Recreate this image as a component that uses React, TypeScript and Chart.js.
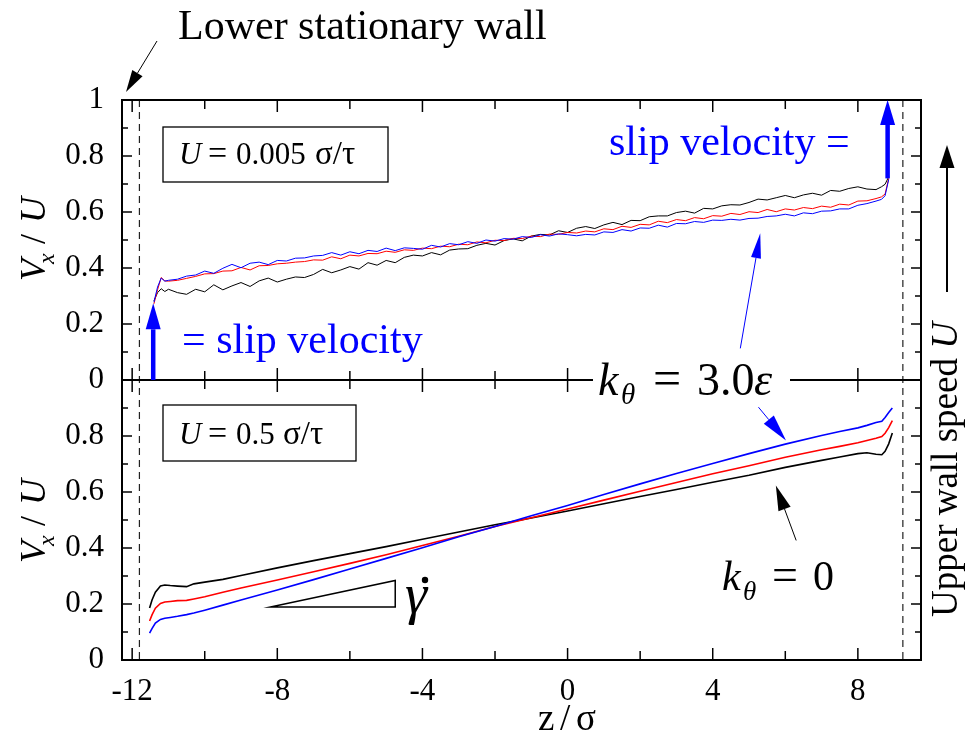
import React, { useEffect, useRef } from 'react';
import { Chart, registerables } from 'chart.js';

Chart.register(...registerables);

// ---------- axes ----------
const X_MIN = -12.28;
const X_MAX = 9.74;
const X_MAJOR = [-12, -8, -4, 0, 4, 8];
const X_MINOR = [-10, -6, -2, 2, 6];
const Y_UP_TICKS = [0, 0.2, 0.4, 0.6, 0.8, 1];
const Y_LOW_TICKS = [0, 0.2, 0.4, 0.6, 0.8];
const Y_MINOR = [0.1, 0.3, 0.5, 0.7, 0.9];
const WALLS = [-11.8, 9.24];

// ---------- upper panel, U = 0.005 ----------
const Z_UP = [
  -11.4, -11.3, -11.2, -11.1, -11.0, -10.75, -10.5, -10.25, -10.0, -9.75,
  -9.5, -9.25, -9.0, -8.75, -8.5, -8.25, -8.0, -7.75, -7.5, -7.25,
  -7.0, -6.75, -6.5, -6.25, -6.0, -5.75, -5.5, -5.25, -5.0, -4.75,
  -4.5, -4.25, -4.0, -3.75, -3.5, -3.25, -3.0, -2.75, -2.5, -2.25,
  -2.0, -1.75, -1.5, -1.25, -1.0, -0.75, -0.5, -0.25, 0, 0.25,
  0.5, 0.75, 1.0, 1.25, 1.5, 1.75, 2.0, 2.25, 2.5, 2.75,
  3.0, 3.25, 3.5, 3.75, 4.0, 4.25, 4.5, 4.75, 5.0, 5.25,
  5.5, 5.75, 6.0, 6.25, 6.5, 6.75, 7.0, 7.25, 7.5, 7.75,
  8.0, 8.25, 8.5, 8.65, 8.75, 8.85,
];
const UP_BLACK = [
  0.283, 0.312, 0.326, 0.316, 0.324, 0.312, 0.306, 0.324, 0.315, 0.340,
  0.322, 0.336, 0.348, 0.334, 0.354, 0.364, 0.350, 0.360, 0.368, 0.366,
  0.377, 0.395, 0.383, 0.393, 0.405, 0.396, 0.419, 0.410, 0.427, 0.419,
  0.438, 0.446, 0.443, 0.455, 0.447, 0.464, 0.468, 0.469, 0.481, 0.488,
  0.482, 0.498, 0.504, 0.497, 0.514, 0.520, 0.518, 0.533, 0.527, 0.542,
  0.548, 0.541, 0.554, 0.563, 0.555, 0.570, 0.569, 0.583, 0.586, 0.586,
  0.598, 0.603, 0.596, 0.613, 0.611, 0.622, 0.626, 0.625, 0.634, 0.646,
  0.643, 0.651, 0.659, 0.651, 0.661, 0.667, 0.660, 0.677, 0.674, 0.684,
  0.690, 0.682, 0.680, 0.690, 0.699, 0.726,
];
const UP_RED = [
  0.272, 0.322, 0.366, 0.354, 0.353, 0.356, 0.363, 0.370, 0.379, 0.380,
  0.389, 0.390, 0.402, 0.393, 0.408, 0.409, 0.415, 0.417, 0.421, 0.423,
  0.429, 0.428, 0.440, 0.433, 0.446, 0.443, 0.452, 0.451, 0.460, 0.456,
  0.465, 0.463, 0.471, 0.469, 0.478, 0.476, 0.485, 0.483, 0.493, 0.490,
  0.499, 0.498, 0.506, 0.505, 0.514, 0.512, 0.521, 0.520, 0.527, 0.525,
  0.532, 0.529, 0.540, 0.537, 0.549, 0.545, 0.556, 0.554, 0.567, 0.562,
  0.573, 0.569, 0.580, 0.576, 0.587, 0.585, 0.595, 0.591, 0.601, 0.598,
  0.609, 0.601, 0.611, 0.607, 0.616, 0.612, 0.621, 0.617, 0.628, 0.625,
  0.639, 0.640, 0.648, 0.654, 0.664, 0.720,
];
const UP_BLUE = [
  0.278, 0.332, 0.364, 0.353, 0.356, 0.360, 0.371, 0.375, 0.389, 0.381,
  0.399, 0.413, 0.401, 0.417, 0.421, 0.412, 0.427, 0.425, 0.435, 0.436,
  0.443, 0.445, 0.455, 0.446, 0.458, 0.451, 0.463, 0.459, 0.471, 0.462,
  0.472, 0.470, 0.467, 0.481, 0.475, 0.487, 0.483, 0.494, 0.488, 0.500,
  0.496, 0.505, 0.503, 0.512, 0.509, 0.519, 0.514, 0.522, 0.519, 0.515,
  0.520, 0.518, 0.529, 0.527, 0.537, 0.532, 0.543, 0.542, 0.553, 0.546,
  0.559, 0.558, 0.566, 0.563, 0.571, 0.570, 0.574, 0.571, 0.577, 0.578,
  0.584, 0.586, 0.592, 0.586, 0.597, 0.594, 0.603, 0.604, 0.611, 0.611,
  0.624, 0.630, 0.639, 0.645, 0.658, 0.716,
];

// ---------- lower panel, U = 0.5 ----------
const Z_LOW = [
  -11.52, -11.45, -11.36, -11.22, -11.1, -10.95, -10.75, -10.5, -10.3, -10.0,
  -9.5, -9.0, -8.0, -7.0, -6.0, -5.0, -4.0, -3.0, -2.0, -1.0,
  0, 1, 2, 3, 4, 5, 6, 7, 7.5, 8.0,
  8.25, 8.5, 8.66, 8.75, 8.85, 8.95,
];
const LOW_BLACK = [
  0.186, 0.215, 0.242, 0.264, 0.268, 0.266, 0.264, 0.262, 0.272, 0.278,
  0.288, 0.302, 0.329, 0.355, 0.380, 0.405, 0.431, 0.457, 0.483, 0.507,
  0.532, 0.558, 0.584, 0.609, 0.635, 0.660, 0.688, 0.713, 0.725, 0.737,
  0.740, 0.735, 0.733, 0.745, 0.772, 0.811,
];
const LOW_RED = [
  0.139, 0.162, 0.185, 0.202, 0.207, 0.209, 0.212, 0.213, 0.218, 0.226,
  0.242, 0.257, 0.286, 0.315, 0.345, 0.376, 0.409, 0.442, 0.477, 0.508,
  0.539, 0.571, 0.603, 0.634, 0.665, 0.694, 0.724, 0.751, 0.763, 0.776,
  0.784, 0.792, 0.798, 0.810, 0.830, 0.855,
];
const LOW_BLUE = [
  0.096, 0.113, 0.132, 0.145, 0.149, 0.152, 0.156, 0.162, 0.168, 0.178,
  0.196, 0.214, 0.250, 0.287, 0.325, 0.363, 0.401, 0.440, 0.477, 0.515,
  0.552, 0.591, 0.629, 0.666, 0.702, 0.737, 0.771, 0.802, 0.816, 0.829,
  0.838, 0.848, 0.853, 0.866, 0.884, 0.900,
];

// ---------- annotation anchors (data units) ----------
const SLIP_LEFT = { z: -11.42, from: 0, to: 0.274 };
const SLIP_RIGHT = { z: 8.82, from: 0.72, to: 1.0 };
const GAMMA_TRI = [[-8.19, 0.189], [-4.75, 0.189], [-4.75, 0.284]];

const BLACK = '#000000';
const RED = '#ff0000';
const BLUE = '#0000ff';
const SERIF = '"Liberation Serif", serif';

function arrow(ctx: any, x1: number, y1: number, x2: number, y2: number, color: string, lw: number, hl: number, hw: number) {
  const a = Math.atan2(y2 - y1, x2 - x1);
  const bx = x2 - hl * Math.cos(a);
  const by = y2 - hl * Math.sin(a);
  ctx.save();
  ctx.strokeStyle = color;
  ctx.fillStyle = color;
  ctx.lineWidth = lw;
  ctx.beginPath();
  ctx.moveTo(x1, y1);
  ctx.lineTo(bx, by);
  ctx.stroke();
  const px = -Math.sin(a) * hw / 2;
  const py = Math.cos(a) * hw / 2;
  ctx.beginPath();
  ctx.moveTo(x2, y2);
  ctx.lineTo(bx + px, by + py);
  ctx.lineTo(bx - px, by - py);
  ctx.closePath();
  ctx.fill();
  ctx.restore();
}

function text(ctx: any, s: string, x: number, y: number, font: string, color = '#000', align = 'left') {
  ctx.font = font;
  ctx.fillStyle = color;
  ctx.textAlign = align;
  ctx.textBaseline = 'alphabetic';
  ctx.fillText(s, x, y);
}

const annotations = {
  id: 'annotations',
  afterDatasetsDraw(chart: any) {
    const ctx = chart.ctx;
    const xs = chart.scales.x;
    const yU = chart.scales.yUp;
    const yL = chart.scales.yLow;
    const X = (v: number) => xs.getPixelForValue(v);
    const U = (v: number) => yU.getPixelForValue(v);
    const L = (v: number) => yL.getPixelForValue(v);
    const left = xs.left;
    const right = xs.right;
    const line = (a: number, b: number, c: number, d: number) => {
      ctx.beginPath();
      ctx.moveTo(a, b);
      ctx.lineTo(c, d);
      ctx.stroke();
    };
    ctx.save();

    // dashed wall positions
    ctx.strokeStyle = '#222';
    ctx.lineWidth = 1.2;
    ctx.setLineDash([7, 5]);
    for (const w of WALLS) line(X(w), yU.top, X(w), yL.bottom);
    ctx.setLineDash([]);

    // frames
    ctx.strokeStyle = '#000';
    ctx.lineWidth = 2;
    ctx.strokeRect(left, yU.top, right - left, yU.bottom - yU.top);
    ctx.strokeRect(left, yL.top, right - left, yL.bottom - yL.top);

    // inward ticks
    ctx.lineWidth = 1.5;
    const edges: [number, number][] = [[yU.top, 1], [yU.bottom, -1], [yL.top, 1], [yL.bottom, -1]];
    const tickX = (v: number, len: number) => {
      const p = X(v);
      for (const [y0, d] of edges) line(p, y0, p, y0 + d * len);
    };
    X_MAJOR.forEach((v) => tickX(v, 12));
    X_MINOR.forEach((v) => tickX(v, 9));
    const tickY = (s: any, v: number, len: number) => {
      const p = s.getPixelForValue(v);
      line(left, p, left + len, p);
      line(right, p, right - len, p);
    };
    for (const s of [yU, yL]) {
      Y_UP_TICKS.forEach((v) => tickY(s, v, 10));
      Y_MINOR.forEach((v) => tickY(s, v, 6));
    }

    // parameter boxes
    ctx.lineWidth = 1.3;
    ctx.strokeRect(163, 127, 225, 55);
    text(ctx, 'U', 179, 164, `italic 31px ${SERIF}`);
    text(ctx, '=', 208, 164, `34px ${SERIF}`);
    text(ctx, '0.005', 236, 164, `31px ${SERIF}`);
    text(ctx, 'σ/τ', 315, 164, `33px ${SERIF}`);
    ctx.strokeRect(163, 405, 193, 56);
    text(ctx, 'U', 179, 444, `italic 31px ${SERIF}`);
    text(ctx, '=', 208, 444, `34px ${SERIF}`);
    text(ctx, '0.5', 236, 444, `31px ${SERIF}`);
    text(ctx, 'σ/τ', 283, 444, `33px ${SERIF}`);

    // slip velocity arrows and labels
    arrow(ctx, X(SLIP_LEFT.z), U(SLIP_LEFT.from), X(SLIP_LEFT.z), U(SLIP_LEFT.to), BLUE, 4.5, 26, 15);
    arrow(ctx, X(SLIP_RIGHT.z), U(SLIP_RIGHT.from), X(SLIP_RIGHT.z), U(SLIP_RIGHT.to), BLUE, 4.5, 25, 15);
    text(ctx, '= slip velocity', 182, 353, `42px ${SERIF}`, BLUE);
    text(ctx, 'slip velocity =', 609, 155, `42px ${SERIF}`, BLUE);

    // k_theta = 3.0 epsilon label across the middle line
    ctx.fillStyle = '#fff';
    ctx.fillRect(593, 366, 197, 28);
    text(ctx, 'k', 598, 395, `italic 46px ${SERIF}`);
    text(ctx, 'θ', 621, 404, `italic 29px ${SERIF}`);
    text(ctx, '=', 653, 395, `50px ${SERIF}`);
    text(ctx, '3.0', 697, 395, `46px ${SERIF}`);
    text(ctx, 'ε', 754, 395, `italic 46px ${SERIF}`);
    arrow(ctx, X(4.76), U(0.113), X(5.31), U(0.524), BLUE, 1, 25, 10);
    arrow(ctx, X(5.26), L(0.903), X(6.02), L(0.784), BLUE, 1, 27, 13);

    // k_theta = 0 label
    text(ctx, 'k', 722, 590, `italic 42px ${SERIF}`);
    text(ctx, 'θ', 743, 600, `italic 27px ${SERIF}`);
    text(ctx, '=', 772, 590, `46px ${SERIF}`);
    text(ctx, '0', 813, 590, `42px ${SERIF}`);
    arrow(ctx, X(6.3), L(0.427), X(5.74), L(0.623), BLACK, 1, 25, 13);

    // shear-rate triangle
    ctx.strokeStyle = '#000';
    ctx.lineWidth = 1.5;
    ctx.beginPath();
    ctx.moveTo(X(GAMMA_TRI[0][0]), L(GAMMA_TRI[0][1]));
    ctx.lineTo(X(GAMMA_TRI[1][0]), L(GAMMA_TRI[1][1]));
    ctx.lineTo(X(GAMMA_TRI[2][0]), L(GAMMA_TRI[2][1]));
    ctx.closePath();
    ctx.stroke();
    text(ctx, 'γ', 405, 613, `italic 56px ${SERIF}`);
    ctx.fillStyle = '#000';
    ctx.beginPath();
    ctx.arc(425, 580, 3.2, 0, Math.PI * 2);
    ctx.fill();

    // top label
    text(ctx, 'Lower stationary wall', 178, 39, `42px ${SERIF}`);
    arrow(ctx, 157, 41, 126, 92, BLACK, 1, 22, 12);

    // right label
    ctx.save();
    ctx.translate(957, 617);
    ctx.rotate(-Math.PI / 2);
    ctx.font = `37px ${SERIF}`;
    const w1 = ctx.measureText('Upper wall speed ').width;
    text(ctx, 'Upper wall speed ', 0, 0, `37px ${SERIF}`);
    text(ctx, 'U', w1, 0, `italic 37px ${SERIF}`);
    ctx.restore();
    arrow(ctx, 947, 292, 947, 145, BLACK, 2, 23, 15);

    // y titles
    const vTitle = (yStart: number) => {
      ctx.save();
      ctx.translate(45, yStart);
      ctx.rotate(-Math.PI / 2);
      text(ctx, 'V', 0, 0, `italic 36px ${SERIF}`);
      text(ctx, 'x', 17, 9, `italic 24px ${SERIF}`);
      text(ctx, '/', 37, 0, `36px ${SERIF}`);
      text(ctx, 'U', 58, 0, `italic 36px ${SERIF}`);
      ctx.restore();
    };
    vTitle(281);
    vTitle(563);

    // x title
    text(ctx, 'z', 538, 730, `37px ${SERIF}`);
    text(ctx, '/', 560, 730, `37px ${SERIF}`);
    text(ctx, 'σ', 576, 730, `37px ${SERIF}`);

    ctx.restore();
  },
};

export default function App() {
  const ref = useRef<HTMLCanvasElement>(null);
  useEffect(() => {
    const canvas = ref.current as HTMLCanvasElement;
    const pts = (zs: number[], vs: number[]) => zs.map((z, i) => ({ x: z, y: vs[i] }));
    const tickFont = { family: SERIF, size: 31 };
    const chart = new Chart(canvas, {
      type: 'line',
      data: {
        datasets: [
          { data: pts(Z_UP, UP_BLUE), yAxisID: 'yUp', borderColor: BLUE, borderWidth: 1, order: 1 },
          { data: pts(Z_UP, UP_RED), yAxisID: 'yUp', borderColor: RED, borderWidth: 1, order: 2 },
          { data: pts(Z_UP, UP_BLACK), yAxisID: 'yUp', borderColor: BLACK, borderWidth: 1, order: 3 },
          { data: pts(Z_LOW, LOW_BLUE), yAxisID: 'yLow', borderColor: BLUE, borderWidth: 1.6, order: 4 },
          { data: pts(Z_LOW, LOW_RED), yAxisID: 'yLow', borderColor: RED, borderWidth: 1.6, order: 5 },
          { data: pts(Z_LOW, LOW_BLACK), yAxisID: 'yLow', borderColor: BLACK, borderWidth: 1.6, order: 6 },
        ],
      } as any,
      options: {
        responsive: false,
        animation: false,
        devicePixelRatio: 1,
        events: [],
        layout: { padding: { top: 100, right: 59, bottom: 0, left: 0 } },
        elements: { point: { radius: 0 }, line: { tension: 0, fill: false } },
        plugins: { legend: { display: false }, tooltip: { enabled: false } },
        scales: {
          x: {
            type: 'linear',
            position: 'bottom',
            min: X_MIN,
            max: X_MAX,
            grid: { display: false },
            border: { display: false },
            afterBuildTicks: (s: any) => { s.ticks = X_MAJOR.map((v) => ({ value: v })); },
            afterFit: (s: any) => { s.height = 72; },
            ticks: { color: '#000', font: tickFont, padding: 5, maxRotation: 0, autoSkip: false, callback: (v: any) => String(v) },
          },
          yLow: {
            type: 'linear',
            position: 'left',
            stack: 'panels',
            stackWeight: 1,
            weight: 1,
            min: 0,
            max: 1,
            grid: { display: false },
            border: { display: false },
            afterBuildTicks: (s: any) => { s.ticks = Y_LOW_TICKS.map((v) => ({ value: v })); },
            afterFit: (s: any) => { s.width = 122; },
            ticks: { color: '#000', font: tickFont, padding: 10, autoSkip: false, callback: (v: any) => String(v) },
          },
          yUp: {
            type: 'linear',
            position: 'left',
            stack: 'panels',
            stackWeight: 1,
            weight: 2,
            min: 0,
            max: 1,
            grid: { display: false },
            border: { display: false },
            afterBuildTicks: (s: any) => { s.ticks = Y_UP_TICKS.map((v) => ({ value: v })); },
            afterFit: (s: any) => { s.width = 122; },
            ticks: { color: '#000', font: tickFont, padding: 10, autoSkip: false, callback: (v: any) => String(v) },
          },
        },
      } as any,
      plugins: [annotations],
    });
    return () => chart.destroy();
  }, []);
  return (
    <div style={{ position: 'fixed', left: 0, top: 0, width: 980, height: 732, background: '#fff' }}>
      <canvas ref={ref} width={980} height={732} style={{ display: 'block', width: 980, height: 732 }} />
    </div>
  );
}
